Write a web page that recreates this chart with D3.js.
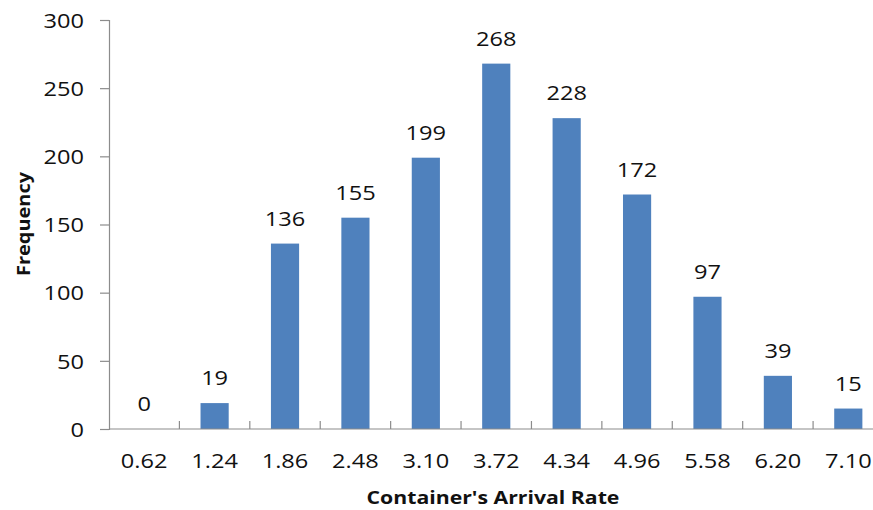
<!DOCTYPE html>
<html>
<head>
<meta charset="utf-8">
<script src="https://cdn.jsdelivr.net/npm/d3@7"></script>
<style>
  html, body { margin: 0; padding: 0; background: #fff; }
  svg { display: block; }
  text { font-family: "Open Sans", sans-serif; fill: #111; }
</style>
</head>
<body>
<svg id="chart" width="873" height="510"></svg>
<script>
// Arrival-rate bins and their observed frequencies
const categories = ["0.62", "1.24", "1.86", "2.48", "3.10", "3.72", "4.34", "4.96", "5.58", "6.20", "7.10"];
const frequencies = [0, 19, 136, 155, 199, 268, 228, 172, 97, 39, 15];
const yTicks = [0, 50, 100, 150, 200, 250, 300];

const xTitle = "Container's Arrival Rate";
const yTitle = "Frequency";

const W = 873, H = 510;
const margin = { left: 109, right: -10.5, top: 20, bottom: 81 };
const sx = 1.18; // horizontal text widening
const fs = "20px";

const svg = d3.select("#chart");

const x = d3.scaleBand()
  .domain(categories)
  .range([margin.left, W - margin.right])
  .paddingInner(0)
  .paddingOuter(0);

const y = d3.scaleLinear()
  .domain([0, 300])
  .range([H - margin.bottom, margin.top]);

const axisColor = "#8c8c8c";
const barColor = "#4f81bd";

// Bars: width = band / 2.5 (gap width 150%)
const barW = x.bandwidth() / 2.5;
svg.append("g")
  .selectAll("rect")
  .data(frequencies)
  .join("rect")
  .attr("x", (d, i) => x(categories[i]) + (x.bandwidth() - barW) / 2)
  .attr("y", d => y(d))
  .attr("width", barW)
  .attr("height", d => y(0) - y(d))
  .attr("fill", barColor);

// Value labels above bars
svg.append("g")
  .selectAll("text")
  .data(frequencies)
  .join("text")
  .attr("transform", (d, i) => `translate(${x(categories[i]) + x.bandwidth() / 2},${y(d) - 18}) scale(${sx},1)`)
  .attr("text-anchor", "middle")
  .style("font-size", fs)
  .text(d => d);

// Y axis
const yAxis = svg.append("g")
  .attr("transform", `translate(${margin.left},0)`)
  .call(d3.axisLeft(y).tickValues(yTicks).tickSize(9).tickPadding(0));
yAxis.select(".domain").attr("stroke", axisColor).attr("stroke-width", 1.2);
yAxis.selectAll(".tick line").attr("stroke", axisColor).attr("stroke-width", 1.2);
yAxis.selectAll(".tick text")
  .attr("x", null)
  .attr("dy", "0.36em")
  .attr("transform", `translate(-25,0) scale(${sx},1)`)
  .style("font-size", fs)
  .style("font-family", "'Open Sans', sans-serif")
  .attr("fill", "#111");

// X axis with tick marks between categories
const xAxisG = svg.append("g").attr("transform", `translate(0,${y(0)})`);
xAxisG.append("line")
  .attr("x1", margin.left).attr("x2", W)
  .attr("stroke", axisColor).attr("stroke-width", 1.2);
xAxisG.selectAll("line.sep")
  .data(categories.slice(1))
  .join("line")
  .attr("class", "sep")
  .attr("x1", d => x(d)).attr("x2", d => x(d))
  .attr("y1", 0).attr("y2", -8)
  .attr("stroke", axisColor).attr("stroke-width", 1.2);
xAxisG.selectAll("text")
  .data(categories)
  .join("text")
  .attr("transform", d => `translate(${x(d) + x.bandwidth() / 2},39) scale(${sx},1)`)
  .attr("text-anchor", "middle")
  .style("font-size", fs)
  .text(d => d);

// Axis titles
svg.append("text")
  .attr("transform", `translate(493,504) scale(${sx},1)`)
  .attr("text-anchor", "middle")
  .style("font-size", "18px")
  .style("font-weight", "bold")
  .text(xTitle);

svg.append("text")
  .attr("transform", `translate(30,224) rotate(-90)`)
  .attr("text-anchor", "middle")
  .style("font-size", "18px")
  .style("font-weight", "bold")
  .attr("textLength", 104)
  .attr("lengthAdjust", "spacingAndGlyphs")
  .text(yTitle);
</script>
</body>
</html>
